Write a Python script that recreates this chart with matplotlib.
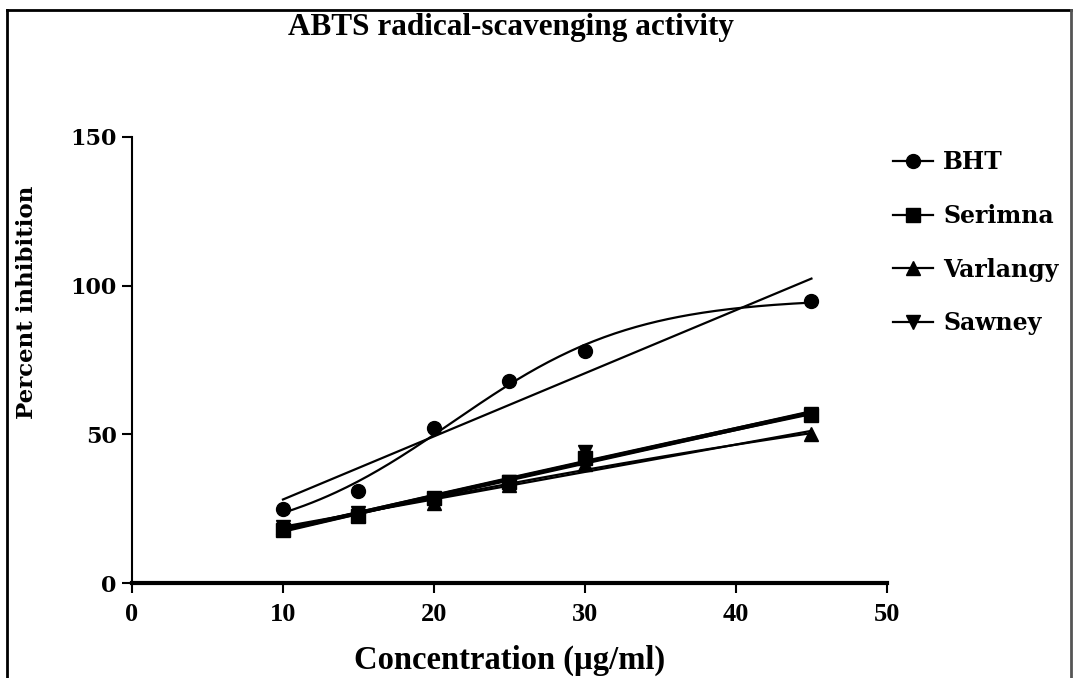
import numpy as np
import matplotlib.pyplot as plt
from matplotlib.lines import Line2D

# concentrations (ug/ml) and percent inhibition
conc = [10, 15, 20, 25, 30, 45]
bht = [25, 31, 52, 68, 78, 95]
serimna = [18, 22.5, 28.5, 34, 42, 56.5]
varlangy = [19, 23, 27, 33, 40, 50]
sawney = [19, 23.5, 28, 34, 44, 57]

series_names = ["BHT", "Serimna", "Varlangy", "Sawney"]
series_vals = [bht, serimna, varlangy, sawney]
series_markers = ["o", "s", "^", "v"]
curve_kind = ["logistic", "quad", "quad", "quad"]

serif_b = {"family": "Liberation Serif", "weight": "bold"}
wide_b = {"family": "DejaVu Serif", "weight": "bold"}


def logistic_fit(x, y):
    # grid search on midpoint / slope, bottom & top solved by least squares
    best = None
    for x50 in np.linspace(5, 45, 161):
        for s in np.linspace(1, 25, 97):
            f = 1.0 / (1.0 + np.exp((x50 - x) / s))
            A = np.column_stack([1 - f, f])
            coef, res, _, _ = np.linalg.lstsq(A, y, rcond=None)
            err = np.sum((A @ coef - y) ** 2)
            if best is None or err < best[0]:
                best = (err, x50, s, coef)
    _, x50, s, coef = best

    def model(xx):
        f = 1.0 / (1.0 + np.exp((x50 - xx) / s))
        return coef[0] * (1 - f) + coef[1] * f
    return model


fig = plt.figure(figsize=(10.73, 6.78), dpi=100)
ax = fig.add_axes([0.123, 0.140, 0.7036, 0.658])

x = np.array(conc, dtype=float)
xx = np.linspace(10, 45, 200)

for name, vals, mk, kind in zip(series_names, series_vals, series_markers, curve_kind):
    y = np.array(vals, dtype=float)
    # straight-line fit
    p1 = np.polyfit(x, y, 1)
    ax.plot(xx, np.polyval(p1, xx), color="black", lw=1.6, zorder=2)
    # curve fit
    if kind == "logistic":
        yy = logistic_fit(x, y)(xx)
    else:
        yy = np.polyval(np.polyfit(x, y, 2), xx)
    ax.plot(xx, yy, color="black", lw=1.6, zorder=2)
    ax.plot(x, y, linestyle="none", marker=mk, color="black", markersize=10, zorder=3)

ax.set_xlim(0, 50)
ax.set_ylim(0, 150)
ax.set_xticks([0, 10, 20, 30, 40, 50])
ax.set_yticks([0, 50, 100, 150])

for s in ["top", "right"]:
    ax.spines[s].set_visible(False)
ax.spines["left"].set_linewidth(1.5)
ax.spines["bottom"].set_linewidth(3)
ax.spines["bottom"].set_capstyle("projecting")
ax.tick_params(axis="both", direction="out", length=7, width=1.5, color="black")
ax.tick_params(axis="x", pad=7)
ax.tick_params(axis="y", pad=4)

for lab in ax.get_xticklabels():
    lab.set_fontproperties({"family": "Liberation Serif", "weight": "bold", "size": 19})
for lab in ax.get_yticklabels():
    lab.set_fontproperties({"family": "DejaVu Serif", "weight": "bold", "size": 16})

ax.set_xlabel("Concentration (µg/ml)", fontdict={**serif_b, "size": 23.5}, labelpad=14)
ax.set_ylabel("Percent inhibition", fontdict={**wide_b, "size": 16.5})
ax.yaxis.set_label_coords(-0.1245, 0.63)

fig.text(0.476, 0.96, "ABTS radical-scavenging activity", ha="center", va="center",
         fontdict={**serif_b, "size": 22.5})

handles = [Line2D([0], [0], color="black", lw=1.6, marker=mk, markersize=10)
           for mk in series_markers]
leg = fig.legend(handles, series_names, loc="upper left", bbox_to_anchor=(0.812, 0.81),
                 frameon=False, handlelength=1.7, handletextpad=0.45, labelspacing=1.26,
                 prop={"family": "DejaVu Serif", "weight": "bold", "size": 17})

# picture frame (left, top, right)
fig.add_artist(Line2D([0.0065, 0.0065], [0.0, 0.985], color="black", lw=2, transform=fig.transFigure))
fig.add_artist(Line2D([0.0065, 0.998], [0.985, 0.985], color="black", lw=2, transform=fig.transFigure))
fig.add_artist(Line2D([0.998, 0.998], [0.0, 0.985], color="#555555", lw=2, transform=fig.transFigure))

fig.savefig("out.png", dpi=100)
